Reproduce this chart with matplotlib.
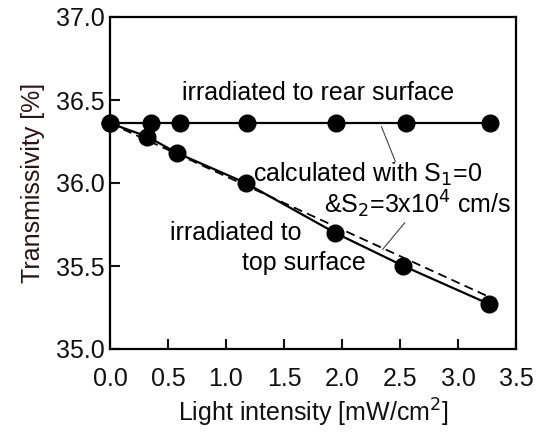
import matplotlib
matplotlib.use("Agg")
import matplotlib.pyplot as plt

plt.rcParams['font.family'] = ['Liberation Sans', 'DejaVu Sans']

rear_x = [0.0, 0.35, 0.6, 1.18, 1.95, 2.55, 3.28]
rear_y = [36.36, 36.36, 36.36, 36.36, 36.36, 36.36, 36.36]
top_x = [0.0, 0.32, 0.58, 1.17, 1.94, 2.53, 3.27]
top_y = [36.36, 36.28, 36.18, 36.00, 35.70, 35.50, 35.27]
calc_x = [0.0, 3.28]
calc_y = [36.36, 35.31]
calc_rear_y = [36.36, 36.36]
xticks = [0.0, 0.5, 1.0, 1.5, 2.0, 2.5, 3.0, 3.5]
yticks = [35.0, 35.5, 36.0, 36.5, 37.0]

fig = plt.figure(figsize=(5.39, 4.32), dpi=100)
ax = fig.add_axes([110/539, 1-349/432, (516-110)/539, (349-17)/432])

ax.plot(calc_x, calc_y, '--', color='black', lw=1.3, dashes=(5, 3), zorder=2)
ax.plot(calc_x, calc_rear_y, '--', color='black', lw=1.3, dashes=(5, 3), zorder=2)
ax.plot(rear_x, rear_y, '-o', color='black', lw=1.6, ms=12, zorder=3, clip_on=False)
ax.plot(top_x, top_y, '-o', color='black', lw=1.6, ms=12, zorder=3, clip_on=False)

ax.set_xlim(0, 3.5)
ax.set_ylim(35.0, 37.0)
ax.set_xticks(xticks)
ax.set_yticks(yticks)
ax.set_xticklabels([f"{v:.1f}" for v in xticks])
ax.set_yticklabels([f"{v:.1f}" for v in yticks])
ax.tick_params(direction='in', length=7, width=1.5, labelsize=18, colors='#111111')
ax.tick_params(axis='x', pad=13)
ax.tick_params(axis='y', pad=4)
for s in ax.spines.values():
    s.set_linewidth(1.6)

ax.set_xlabel('Light intensity [mW/cm$^2$]', fontsize=18, labelpad=4, color='#111111')
ax.set_ylabel('Transmissivity [%]', fontsize=18, labelpad=8, color='#2a1515')

fs = 18
ax.text(1.79, 36.54, 'irradiated to rear surface', fontsize=fs, ha='center', va='center')
ax.text(2.22, 36.05, 'calculated with S$_1$=0', fontsize=fs, ha='center', va='center')
ax.text(2.65, 35.87, '&S$_2$=3x10$^4$ cm/s', fontsize=fs, ha='center', va='center')
ax.text(1.08, 35.70, 'irradiated to', fontsize=fs, ha='center', va='center')
ax.text(1.67, 35.52, 'top surface', fontsize=fs, ha='center', va='center')

ax.plot([2.34, 2.46], [36.34, 36.13], color='#444444', lw=0.8)
ax.plot([2.54, 2.35], [35.76, 35.60], color='#444444', lw=0.8)

fig.savefig('out.png', dpi=100)
